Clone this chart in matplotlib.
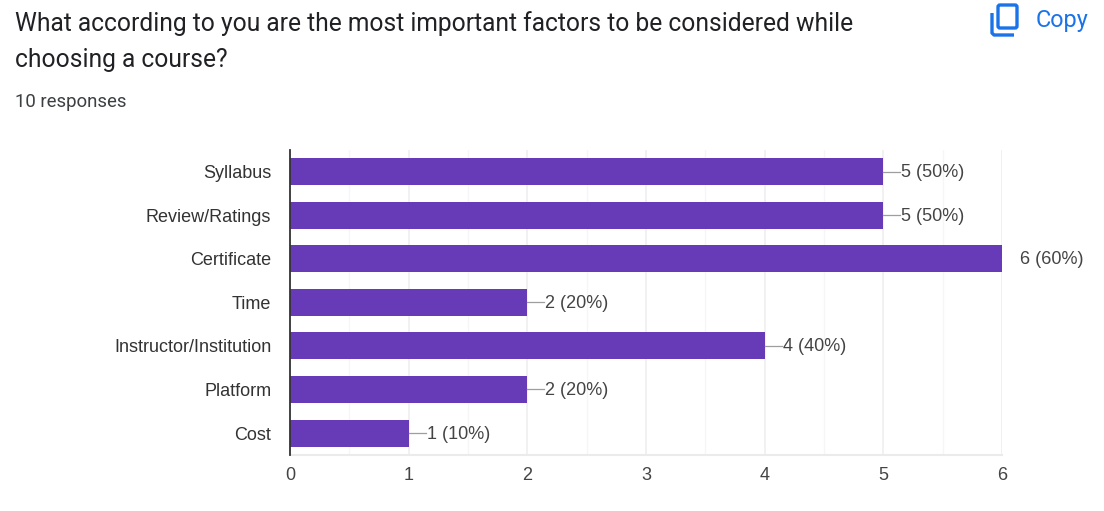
import matplotlib
matplotlib.use('Agg')
import matplotlib.pyplot as plt
from matplotlib.patches import FancyBboxPatch

categories = ['Syllabus', 'Review/Ratings', 'Certificate', 'Time',
              'Instructor/Institution', 'Platform', 'Cost']
counts = [5, 5, 6, 2, 4, 2, 1]
percents = [50, 50, 60, 20, 40, 20, 10]
x_ticks = [0, 1, 2, 3, 4, 5, 6]
minor_ticks = [0.5, 1.5, 2.5, 3.5, 4.5, 5.5]

W, H = 1104, 511
plt.rcParams['font.family'] = ['Liberation Sans', 'DejaVu Sans']

fig = plt.figure(figsize=(W / 100, H / 100), dpi=100, facecolor='white')

# plot area
ax = fig.add_axes([290 / W, 1 - 454.8 / H, 712 / W, 304.8 / H])
y = list(range(len(categories)))
ax.barh(y, counts, height=0.62, color='#673ab7', zorder=3)

ax.set_xlim(0, 6)
ax.set_ylim(len(categories) - 0.5, -0.5)
ax.set_xticks(x_ticks)
ax.set_xticks(minor_ticks, minor=True)
ax.set_yticks(y)
ax.set_yticklabels(categories)
ax.tick_params(axis='y', length=0, pad=13.5, labelsize=13, labelcolor='#333333')
ax.tick_params(axis='x', length=0, pad=9, labelsize=13, labelcolor='#444444')
ax.tick_params(axis='x', which='minor', length=0)
ax.grid(axis='x', which='major', color='#eeeeee', lw=1.1, zorder=0)
ax.grid(axis='x', which='minor', color='#f6f6f6', lw=0.9, zorder=0)

for s in ['top', 'right']:
    ax.spines[s].set_visible(False)
ax.spines['bottom'].set_color('#ebebeb')
ax.spines['bottom'].set_linewidth(1.5)
ax.spines['left'].set_color('#333333')
ax.spines['left'].set_linewidth(1.3)
ax.spines['left'].set_zorder(5)

# value labels with short leader lines
per_px = 6 / 712
for i, (c, p) in enumerate(zip(counts, percents)):
    ax.plot([c, c + 17 * per_px], [i, i], color='#9e9e9e', lw=0.9, zorder=4)
    ax.annotate(f'{c} ({p}%)', (c, i), xytext=(18, -1), textcoords='offset pixels',
                va='center', ha='left', fontsize=13, color='#444444', annotation_clip=False)

# header
fig.text(15 / W, 1 - 23.5 / H, 'What according to you are the most important factors to be considered while',
         fontsize=17.7, color='#202124', va='center', family=['Roboto', 'DejaVu Sans'])
fig.text(15 / W, 1 - 60 / H, 'choosing a course?', fontsize=17.7, color='#202124', va='center',
         family=['Roboto', 'DejaVu Sans'])
fig.text(15 / W, 1 - 102 / H, '10 responses', fontsize=13.4, color='#3c4043', va='center',
         family=['Roboto', 'DejaVu Sans'])

# copy button
fig.text(1036 / W, 1 - 21 / H, 'Copy', fontsize=16.8, color='#1a73e8', va='center',
         family=['Roboto', 'DejaVu Sans'])
icon = fig.add_axes([0, 0, 1, 1], facecolor='none')
icon.set_xlim(0, W)
icon.set_ylim(H, 0)
icon.axis('off')
icon.add_patch(FancyBboxPatch((998, 5), 19, 23, boxstyle='round,pad=0,rounding_size=2',
                              fc='none', ec='#1a73e8', lw=2.4))
icon.plot([992, 992, 994, 1014], [13, 33, 35, 35], color='#1a73e8', lw=2.4, solid_capstyle='butt')

fig.savefig('out.png', dpi=100)
